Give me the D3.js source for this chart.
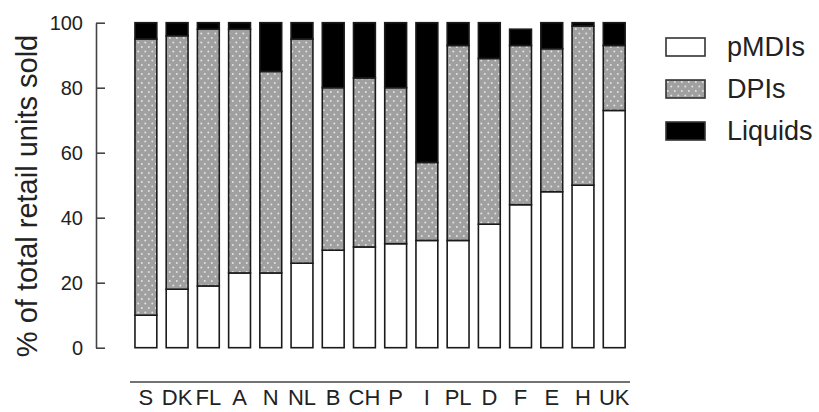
<!DOCTYPE html>
<html>
<head>
<meta charset="utf-8">
<script src="https://cdn.jsdelivr.net/npm/d3@7"></script>
<style>
  html, body { margin: 0; padding: 0; background: #fff; }
  svg { display: block; font-family: "Liberation Sans", Arial, Helvetica, sans-serif; }
</style>
</head>
<body>
<svg id="chart" width="819" height="412"></svg>
<script>
// Countries, ordered by share of pMDIs
const countries = ["S", "DK", "FL", "A", "N", "NL", "B", "CH", "P", "I", "PL", "D", "F", "E", "H", "UK"];
// % of total retail units sold, per inhaler type
const pMDIs   = [10, 18, 19, 23, 23, 26, 30, 31, 32, 33, 33, 38, 44, 48, 50, 73];
const DPIs    = [85, 78, 79, 75, 62, 69, 50, 52, 48, 24, 60, 51, 49, 44, 49, 20];
const Liquids = [ 5,  4,  2,  2, 15,  5, 20, 17, 20, 43,  7, 11,  5,  8,  1,  7];
const seriesNames = ["pMDIs", "DPIs", "Liquids"];
const yTicks = [0, 20, 40, 60, 80, 100];

const rows = countries.map((c, i) => ({ country: c, pMDIs: pMDIs[i], DPIs: DPIs[i], Liquids: Liquids[i] }));

const svg = d3.select("#chart");

// dotted grey fill for DPIs
const defs = svg.append("defs");
const pat = defs.append("pattern")
  .attr("id", "dots").attr("patternUnits", "userSpaceOnUse")
  .attr("width", 7).attr("height", 9);
pat.append("rect").attr("width", 7).attr("height", 9).attr("fill", "#a0a0a0");
pat.append("circle").attr("cx", 1.8).attr("cy", 2).attr("r", 1).attr("fill", "#e2e2e2");
pat.append("circle").attr("cx", 5.3).attr("cy", 6.5).attr("r", 1).attr("fill", "#e2e2e2");

const fills = { pMDIs: "#ffffff", DPIs: "url(#dots)", Liquids: "#000000" };

const x = d3.scaleBand().domain(countries).range([125.6, 634.5]).padding(0.3);
const y = d3.scaleLinear().domain([0, 100]).range([347.7, 22.7]);

const stack = d3.stack().keys(seriesNames);
const layers = stack(rows);

const g = svg.append("g");
layers.forEach(layer => {
  g.append("g").selectAll("rect")
    .data(layer)
    .join("rect")
    .attr("x", d => x(d.data.country))
    .attr("width", x.bandwidth())
    .attr("y", d => y(d[1]))
    .attr("height", d => y(d[0]) - y(d[1]))
    .attr("fill", fills[layer.key])
    .attr("stroke", "#1a1a1a")
    .attr("stroke-width", 1.6);
});

// y axis with inward ticks
const yAxis = svg.append("g")
  .attr("transform", "translate(96,0)")
  .call(d3.axisLeft(y).tickValues(yTicks).tickSizeInner(-9).tickSizeOuter(0).tickPadding(13));
yAxis.select(".domain").attr("stroke", "#444").attr("stroke-width", 1.6);
yAxis.selectAll(".tick line").attr("stroke", "#444").attr("stroke-width", 1.6);
yAxis.selectAll(".tick text")
  .attr("font-size", 20).attr("fill", "#222")
  .attr("font-family", "Liberation Sans, Arial, sans-serif");

svg.append("text")
  .attr("transform", "translate(37,196) rotate(-90)")
  .attr("text-anchor", "middle")
  .attr("font-size", 29).attr("fill", "#222")
  .text("% of total retail units sold");

// category axis: a plain rule with labels below
const xAxis = svg.append("g").attr("transform", "translate(0,382)");
xAxis.append("line")
  .attr("x1", 130).attr("x2", 630)
  .attr("stroke", "#444").attr("stroke-width", 1.6);
xAxis.selectAll("text")
  .data(countries)
  .join("text")
  .attr("x", d => x(d) + x.bandwidth() / 2)
  .attr("y", 23)
  .attr("text-anchor", "middle")
  .attr("font-size", 22).attr("fill", "#222")
  .text(d => d);

// legend
const legend = svg.append("g").attr("transform", "translate(666,38)");
seriesNames.forEach((name, i) => {
  const row = legend.append("g").attr("transform", `translate(0,${i * 42})`);
  row.append("rect")
    .attr("width", 39).attr("height", 18)
    .attr("fill", fills[name])
    .attr("stroke", "#333").attr("stroke-width", 1.6);
  row.append("text")
    .attr("x", 61).attr("y", 18)
    .attr("font-size", 27).attr("fill", "#222")
    .text(name);
});
</script>
</body>
</html>
